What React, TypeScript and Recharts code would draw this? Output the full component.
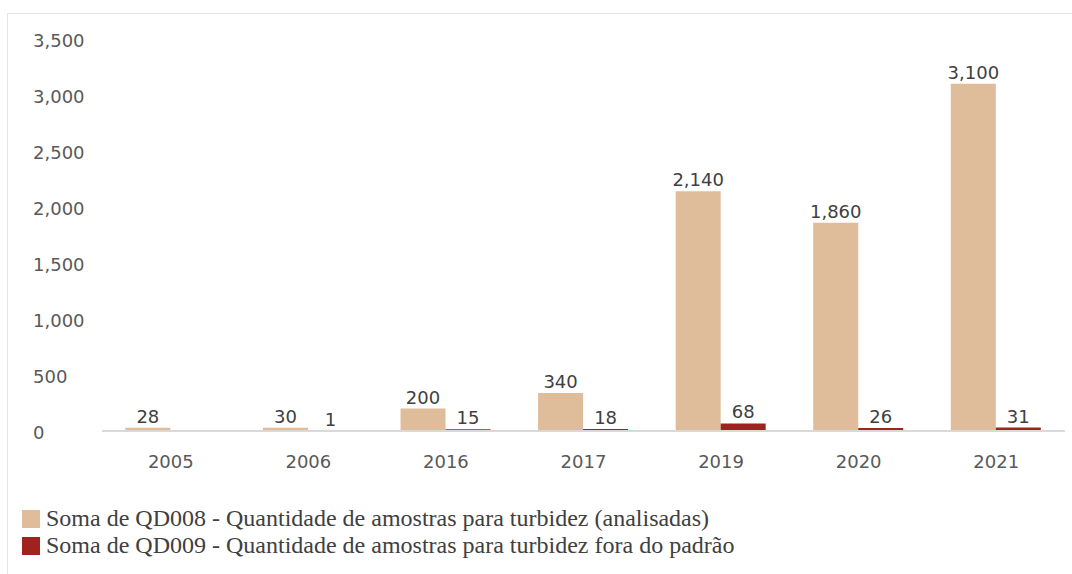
import React from 'react';
import { BarChart, Bar, XAxis, YAxis, Legend, LabelList } from 'recharts';

// Years on the category axis
const years = ['2005', '2006', '2016', '2017', '2019', '2020', '2021'];

// QD008 - samples analysed for turbidity
const analisadas = [28, 30, 200, 340, 2140, 1860, 3100];

// QD009 - samples out of standard (none reported for 2005)
const foraDoPadrao: (number | null)[] = [null, 1, 15, 18, 68, 26, 31];

const yTicks = [0, 500, 1000, 1500, 2000, 2500, 3000, 3500];

const SERIES = [
  { key: 'analisadas', name: 'Soma de QD008 - Quantidade de amostras para turbidez (analisadas)', color: '#DFBC9A' },
  { key: 'fora', name: 'Soma de QD009 - Quantidade de amostras para turbidez fora do padrão', color: '#A0221E' }
];

const data = years.map((year, i) => ({
  year,
  analisadas: analisadas[i],
  fora: foraDoPadrao[i]
}));

const SANS = '"DejaVu Sans", sans-serif';
const fmt = (v: any) => (v === null || v === undefined ? '' : new Intl.NumberFormat('en-US').format(v));

const YTick = ({ y, payload }: any) => (
  <text x={33} y={y} dy={8} textAnchor="start" fontFamily={SANS} fontSize={18} fill="#595959">
    {fmt(payload.value)}
  </text>
);

const XTick = ({ x, y, payload }: any) => (
  <text x={x} y={y} dy={37} textAnchor="middle" fontFamily={SANS} fontSize={18} fill="#595959">
    {payload.value}
  </text>
);

const LegendContent = () => (
  <div style={{ fontFamily: '"Liberation Serif", serif', fontSize: 24, color: '#404040' }}>
    {SERIES.map((s) => (
      <div key={s.key} style={{ display: 'flex', alignItems: 'center', height: 27, whiteSpace: 'nowrap' }}>
        <span style={{ display: 'inline-block', width: 18, height: 18, background: s.color, marginRight: 6 }} />
        <span>{s.name}</span>
      </div>
    ))}
  </div>
);

const App: React.FC = () => {
  return (
    <div style={{ position: 'absolute', left: 0, top: 0, width: 1072, height: 574, background: '#fff' }}>
      <div
        style={{
          position: 'absolute',
          left: 7,
          top: 13,
          right: 0,
          bottom: 0,
          borderLeft: '1px solid #e3e3e3',
          borderTop: '1px solid #e3e3e3'
        }}
      />
      <BarChart
        width={1072}
        height={574}
        data={data}
        margin={{ top: 39, right: 7, left: 0, bottom: 103 }}
        barCategoryGap="17%"
        barGap={0}
      >
        <XAxis
          dataKey="year"
          axisLine={{ stroke: '#d9d9d9', strokeWidth: 2 }}
          tickLine={false}
          tickSize={0}
          tickMargin={0}
          height={40}
          tick={<XTick />}
          interval={0}
        />
        <YAxis
          width={102}
          domain={[0, 3500]}
          ticks={yTicks}
          axisLine={false}
          tickLine={false}
          tick={<YTick />}
          interval={0}
        />
        <Legend
          layout="vertical"
          align="center"
          verticalAlign="middle"
          content={<LegendContent />}
          wrapperStyle={{ left: 22, top: 505, width: 900, height: 56 }}
        />
        {SERIES.map((s) => (
          <Bar key={s.key} dataKey={s.key} name={s.name} fill={s.color} isAnimationActive={false}>
            <LabelList
              dataKey={s.key}
              position="top"
              offset={5}
              formatter={fmt}
              style={{ fontFamily: SANS, fontSize: 18, fill: '#404040' }}
            />
          </Bar>
        ))}
      </BarChart>
    </div>
  );
};

export default App;
